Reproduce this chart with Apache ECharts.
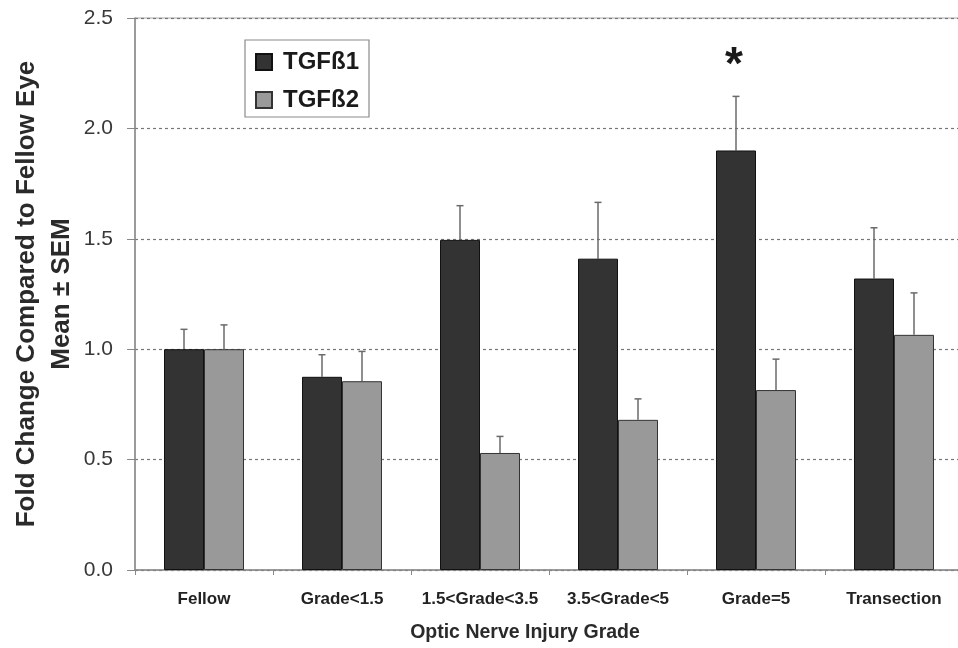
<!DOCTYPE html>
<html>
<head>
<meta charset="utf-8">
<script src="https://cdn.jsdelivr.net/npm/echarts@6/dist/echarts.min.js"></script>
<style>html,body{margin:0;padding:0;background:#fff}#c{width:958px;height:648px}</style>
</head>
<body>
<div id="c"></div>
<script>
var categories = ['Fellow', 'Grade<1.5', '1.5<Grade<3.5', '3.5<Grade<5', 'Grade=5', 'Transection'];
var tgfb1 = [1.0, 0.875, 1.495, 1.41, 1.90, 1.32];
var tgfb1Err = [0.09, 0.10, 0.155, 0.255, 0.245, 0.23];
var tgfb2 = [1.0, 0.855, 0.53, 0.68, 0.815, 1.065];
var tgfb2Err = [0.11, 0.135, 0.075, 0.095, 0.14, 0.19];
var yTicks = [0, 0.5, 1.0, 1.5, 2.0, 2.5];
var starCategory = 'Grade=5';
var starValue = 2.28;

var BAR_W = 40;
var chart = echarts.init(document.getElementById('c'));

function errSeries(vals, errs, side) {
  var data = vals.map(function (v, i) { return [i, v, v + errs[i]]; });
  return {
    type: 'custom',
    silent: true,
    z: 1,
    data: data,
    renderItem: function (params, api) {
      var i = api.value(0);
      var lo = api.coord([i, api.value(1)]);
      var hi = api.coord([i, api.value(2)]);
      var x = lo[0] + side * BAR_W / 2;
      var cap = 3.5;
      return {
        type: 'group',
        children: [
          { type: 'line', shape: { x1: x, y1: lo[1], x2: x, y2: hi[1] }, style: { stroke: '#6a6a6a', lineWidth: 1.5 } },
          { type: 'line', shape: { x1: x - cap, y1: hi[1], x2: x + cap, y2: hi[1] }, style: { stroke: '#6a6a6a', lineWidth: 1.5 } }
        ]
      };
    }
  };
}

var option = {
  animation: false,
  backgroundColor: '#fff',
  grid: { left: 135, top: 18, width: 828, height: 552, outerBoundsMode: 'none', containLabel: false, show: true, borderColor: '#aaaaaa', borderWidth: 1 },
  legend: {
    orient: 'vertical',
    left: 245, top: 40,
    backgroundColor: '#fff',
    borderColor: '#8a8a8a', borderWidth: 1.2,
    padding: [10, 10, 5, 10],
    itemWidth: 16, itemHeight: 16, itemGap: 14,
    icon: 'rect',
    data: ['TGFß1', 'TGFß2'],
    textStyle: { fontFamily: 'Liberation Sans, Arial, sans-serif', fontSize: 24, fontWeight: 'bold', color: '#1a1a1a', padding: [0, 0, 0, 6] }
  },
  xAxis: {
    type: 'category',
    data: categories,
    name: 'Optic Nerve Injury Grade',
    nameLocation: 'middle',
    nameGap: 53,
    nameMoveOverlap: false,
    nameTextStyle: { fontFamily: 'Liberation Sans, Arial, sans-serif', fontSize: 19.5, fontWeight: 'bold', color: '#2a2a2a', padding: [0, 48, 0, 0] },
    axisLine: { lineStyle: { color: '#888', width: 1.5 } },
    axisTick: { show: true, length: 5, lineStyle: { color: '#888' } },
    axisLabel: { margin: 21, fontFamily: 'Liberation Sans, Arial, sans-serif', fontSize: 17, fontWeight: 'bold', color: '#222', interval: 0 }
  },
  yAxis: {
    type: 'value',
    min: 0, max: 2.5, interval: 0.5,
    name: 'Fold Change Compared to Fellow Eye\nMean ± SEM',
    nameLocation: 'middle',
    nameGap: 56,
    nameMoveOverlap: false,
    nameTextStyle: { fontFamily: 'Liberation Sans, Arial, sans-serif', fontSize: 26, fontWeight: 'bold', color: '#2a2a2a', lineHeight: 35 },
    axisLine: { show: true, lineStyle: { color: '#888', width: 1.5 } },
    axisTick: { show: true, length: 8, lineStyle: { color: '#888' } },
    axisLabel: {
      margin: 22, fontFamily: 'Liberation Sans, Arial, sans-serif', fontSize: 21, color: '#383838',
      formatter: function (v) { return yTicks.indexOf(v) >= 0 ? v.toFixed(1) : ''; }
    },
    splitLine: { show: true, lineStyle: { color: '#777', type: [3, 3], width: 1.2 } }
  },
  series: [
    {
      name: 'TGFß1', type: 'bar', data: tgfb1, barWidth: BAR_W, barGap: '0%', z: 2,
      itemStyle: { color: '#333333', borderColor: '#111', borderWidth: 1 },
      markPoint: {
        symbol: 'circle', symbolSize: 0,
        label: { show: true, formatter: '*', fontFamily: 'Liberation Sans, Arial, sans-serif', fontSize: 46, fontWeight: 'bold', color: '#1a1a1a', position: 'inside', offset: [-2, 0] },
        data: [{ coord: [starCategory, starValue] }]
      }
    },
    {
      name: 'TGFß2', type: 'bar', data: tgfb2, barWidth: BAR_W, z: 2,
      itemStyle: { color: '#999999', borderColor: '#333', borderWidth: 1 }
    },
    errSeries(tgfb1, tgfb1Err, -1),
    errSeries(tgfb2, tgfb2Err, 1)
  ]
};
chart.setOption(option);
</script>
</body>
</html>
